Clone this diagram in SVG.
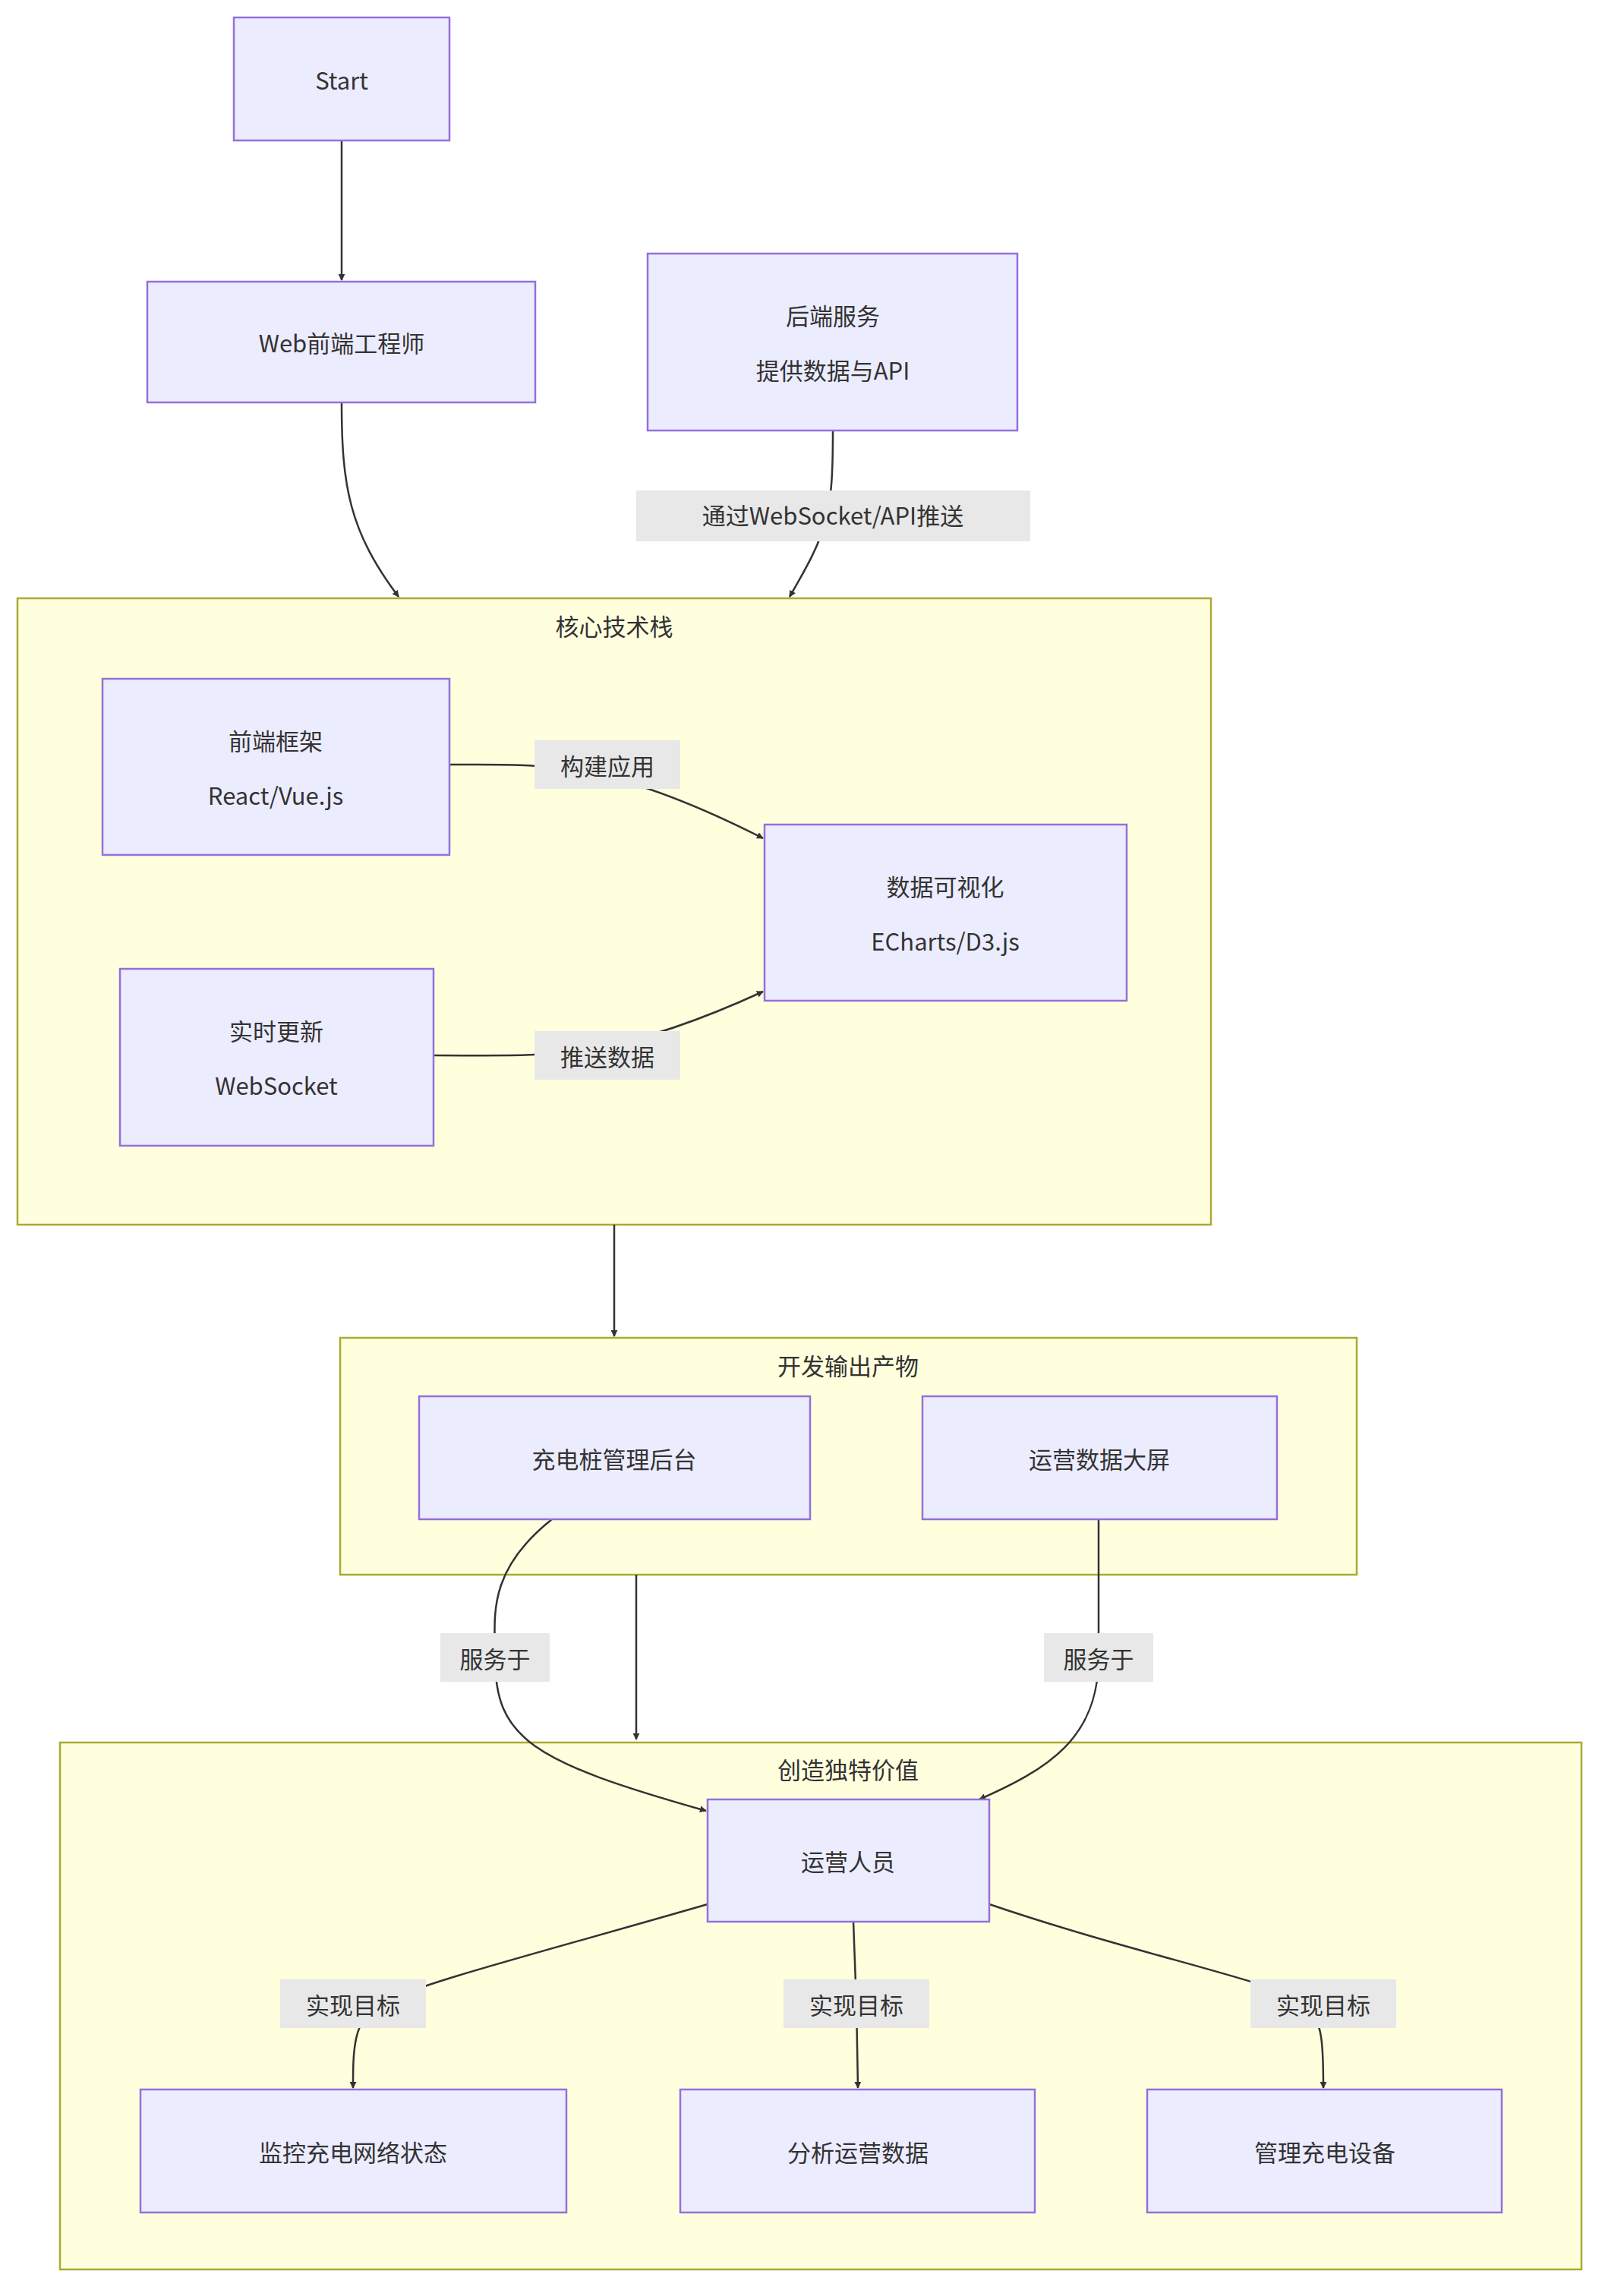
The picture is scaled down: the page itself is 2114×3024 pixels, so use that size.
<svg xmlns="http://www.w3.org/2000/svg" width="2114" height="3024" viewBox="0 0 2114 3024">
<defs>
<marker id="ah" viewBox="0 0 10 10" refX="9" refY="5" markerWidth="9" markerHeight="9" markerUnits="userSpaceOnUse" orient="auto"><path d="M0,0L10,5L0,10z" fill="#333"/></marker>
<style>
text{font-family:"Noto Sans CJK SC","Liberation Sans",sans-serif;font-size:31px;fill:#333;text-anchor:middle;dominant-baseline:central}
.n rect{fill:#ECECFF;stroke:#9370DB;stroke-width:2.5}
.c rect{fill:#FFFFDE;stroke:#AAAA33;stroke-width:2.5}
.e path{fill:none;stroke:#333;stroke-width:2.5;marker-end:url(#ah)}
.l rect{fill:#e8e8e8}
</style>
</defs>
<rect width="2114" height="3024" fill="#fff"/>
<g class="c" id="cluster-core"><rect x="23" y="788" width="1572" height="825"/><text x="809" y="823">核心技术栈</text></g>
<g class="c" id="cluster-output"><rect x="448" y="1762" width="1339" height="312"/><text x="1117" y="1797">开发输出产物</text></g>
<g class="c" id="cluster-value"><rect x="79" y="2295" width="2004" height="694"/><text x="1117" y="2329">创造独特价值</text></g>
<g class="e" id="edges">
<path d="M450,185L450,369"/>
<path d="M450,530C450,640 460,700 525,786"/>
<path d="M1097,567C1097,680 1090,700 1040,786"/>
<path d="M592,1007C720,1007 800,1000 1005,1104"/>
<path d="M571,1390C720,1390 800,1400 1005,1306"/>
<path d="M809,1613L809,1760"/>
<path d="M838,2074L838,2291"/>
<path d="M727,2001C640,2070 652,2130 652,2183C652,2290 700,2320 930,2385"/>
<path d="M1447,2001L1447,2183C1447,2290 1380,2330 1290,2370"/>
<path d="M932,2508C700,2575 560,2610 500,2639C465,2660 465,2700 465,2750"/>
<path d="M1124,2531L1128,2639L1130,2750"/>
<path d="M1303,2508C1500,2575 1680,2610 1720,2639C1743,2660 1743,2700 1743,2750"/>
</g>
<g class="l" id="labels">
<rect x="838" y="646" width="519" height="67"/><text x="1097" y="677">通过WebSocket/API推送</text>
<rect x="704" y="975" width="192" height="64"/><text x="800" y="1007">构建应用</text>
<rect x="704" y="1358" width="192" height="64"/><text x="800" y="1390">推送数据</text>
<rect x="580" y="2151" width="144" height="64"/><text x="652" y="2183">服务于</text>
<rect x="1375" y="2151" width="144" height="64"/><text x="1447" y="2183">服务于</text>
<rect x="369" y="2607" width="192" height="64"/><text x="465" y="2639">实现目标</text>
<rect x="1032" y="2607" width="192" height="64"/><text x="1128" y="2639">实现目标</text>
<rect x="1647" y="2607" width="192" height="64"/><text x="1743" y="2639">实现目标</text>
</g>
<g class="n" id="start"><rect x="308" y="23" width="284" height="162"/><text x="450" y="104">Start</text></g>
<g class="n" id="web"><rect x="194" y="371" width="511" height="159"/><text x="450" y="450">Web前端工程师</text></g>
<g class="n" id="backend"><rect x="853" y="334" width="487" height="233"/><text x="1097" y="414">后端服务</text><text x="1097" y="486">提供数据与API</text></g>
<g class="n" id="framework"><rect x="135" y="894" width="457" height="232"/><text x="363" y="974">前端框架</text><text x="363" y="1046">React/Vue.js</text></g>
<g class="n" id="viz"><rect x="1007" y="1086" width="477" height="232"/><text x="1245" y="1166">数据可视化</text><text x="1245" y="1238">ECharts/D3.js</text></g>
<g class="n" id="realtime"><rect x="158" y="1276" width="413" height="233"/><text x="364" y="1356">实时更新</text><text x="364" y="1428">WebSocket</text></g>
<g class="n" id="admin"><rect x="552" y="1839" width="515" height="162"/><text x="809" y="1920">充电桩管理后台</text></g>
<g class="n" id="screen"><rect x="1215" y="1839" width="467" height="162"/><text x="1448" y="1920">运营数据大屏</text></g>
<g class="n" id="ops"><rect x="932" y="2370" width="371" height="161"/><text x="1117" y="2450">运营人员</text></g>
<g class="n" id="monitor"><rect x="185" y="2752" width="561" height="162"/><text x="465" y="2833">监控充电网络状态</text></g>
<g class="n" id="analyze"><rect x="896" y="2752" width="467" height="162"/><text x="1130" y="2833">分析运营数据</text></g>
<g class="n" id="manage"><rect x="1511" y="2752" width="467" height="162"/><text x="1745" y="2833">管理充电设备</text></g>
</svg>
